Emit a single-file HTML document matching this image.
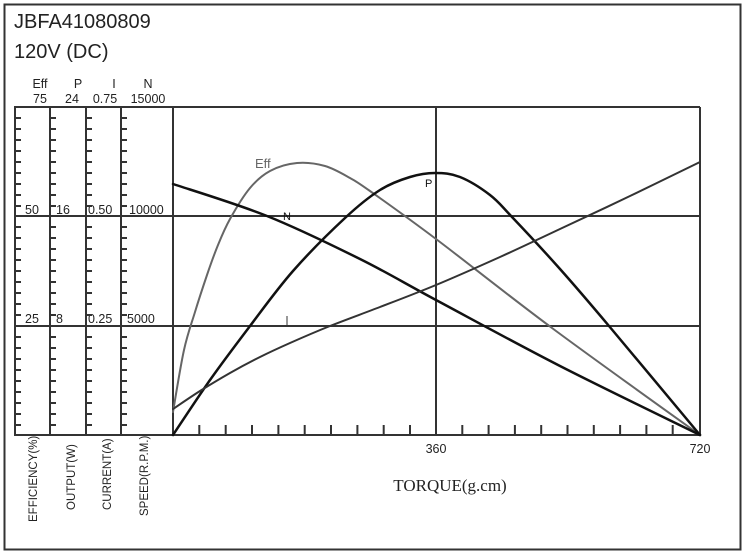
<!DOCTYPE html>
<html><head><meta charset="utf-8"><style>
html,body{margin:0;padding:0;background:#fff}
svg{display:block}
.s{font-family:"Liberation Sans",sans-serif}
.serif{font-family:"Liberation Serif",serif}
</style></head><body>
<svg width="744" height="554" viewBox="0 0 744 554" xmlns="http://www.w3.org/2000/svg">
<rect x="4.5" y="4.5" width="736" height="545" fill="#fff" stroke="#333" stroke-width="2"/>
<text class="s" x="14" y="28" font-size="20" fill="#222">JBFA41080809</text>
<text class="s" x="14" y="58" font-size="20" fill="#222">120V (DC)</text>
<g class="s" font-size="12.5" fill="#222" text-anchor="middle">
<text x="40" y="88">Eff</text><text x="40" y="103">75</text>
<text x="78" y="88">P</text><text x="72" y="103">24</text>
<text x="114" y="88">I</text><text x="105" y="103">0.75</text>
<text x="148" y="88">N</text><text x="148" y="103">15000</text>
</g>
<g class="s" font-size="12.5" fill="#222">
<text x="25" y="214">50</text><text x="56" y="214">16</text><text x="88" y="214">0.50</text><text x="129" y="214">10000</text>
<text x="25" y="323">25</text><text x="56" y="323">8</text><text x="88" y="323">0.25</text><text x="127" y="323">5000</text>
</g>
<g stroke="#333" stroke-width="2" fill="none">
<line x1="14" y1="107" x2="700" y2="107"/>
<line x1="14" y1="435" x2="700" y2="435"/>
<line x1="14" y1="216" x2="700" y2="216"/>
<line x1="14" y1="326" x2="700" y2="326"/>
<line x1="15" y1="107" x2="15" y2="435"/>
<line x1="50" y1="107" x2="50" y2="435"/>
<line x1="86" y1="107" x2="86" y2="435"/>
<line x1="121" y1="107" x2="121" y2="435"/>
<line x1="173" y1="107" x2="173" y2="435"/>
<line x1="436" y1="107" x2="436" y2="435"/>
<line x1="700" y1="107" x2="700" y2="435"/>
</g>
<g stroke="#333" stroke-width="2" id="lt">
<path d="M15 118h6M15 129h6M15 140h6M15 151h6M15 162h6M15 173h6M15 184h6M15 195h6M15 206h6M15 227h6M15 238h6M15 249h6M15 260h6M15 271h6M15 282h6M15 293h6M15 304h6M15 315h6M15 337h6M15 348h6M15 359h6M15 370h6M15 381h6M15 392h6M15 403h6M15 414h6M15 425h6"/>
</g>
<use href="#lt" x="35"/><use href="#lt" x="71"/><use href="#lt" x="106"/>
<g stroke="#333" stroke-width="2">
<path d="M199.3 435v-10M225.7 435v-10M252 435v-10M278.4 435v-10M304.7 435v-10M331 435v-10M357.4 435v-10M383.7 435v-10M410 435v-10M462.3 435v-10M488.6 435v-10M514.9 435v-10M541.2 435v-10M567.5 435v-10M593.8 435v-10M620.1 435v-10M646.4 435v-10M672.7 435v-10"/>
<path d="M287 326v-10" stroke-width="1"/>
</g>
<g class="s" font-size="12.5" fill="#222" text-anchor="middle">
<text x="436" y="453">360</text><text x="700" y="453">720</text>
</g>
<text class="serif" x="450" y="491" font-size="17" text-anchor="middle" fill="#222">TORQUE(g.cm)</text>
<g class="s" font-size="11.5" fill="#222" text-anchor="start">
<text transform="translate(37,522) rotate(-90)">EFFICIENCY(%)</text>
<text transform="translate(75,510) rotate(-90)">OUTPUT(W)</text>
<text transform="translate(111,510) rotate(-90)">CURRENT(A)</text>
<text transform="translate(148,516) rotate(-90)">SPEED(R.P.M.)</text>
</g>
<g fill="none" stroke-linejoin="round" stroke-linecap="round">
<path id="eff" stroke="#666" stroke-width="2" d=""/>
<path id="n" stroke="#111" stroke-width="2.5" d=""/>
<path id="p" stroke="#111" stroke-width="2.5" d=""/>
<path id="i" stroke="#333" stroke-width="2" d=""/>
</g>
<text class="s" x="255" y="168" font-size="13" fill="#666">Eff</text>
<text class="s" x="283" y="220" font-size="11" fill="#111">N</text>
<text class="s" x="425" y="187" font-size="11" fill="#111">P</text>
</svg>
<script>
function cr(pts){
  var d="M"+pts[0][0]+" "+pts[0][1];
  for(var k=0;k<pts.length-1;k++){
    var p0=pts[k-1]||pts[k],p1=pts[k],p2=pts[k+1],p3=pts[k+2]||p2;
    var c1x=p1[0]+(p2[0]-p0[0])/6,c1y=p1[1]+(p2[1]-p0[1])/6;
    var c2x=p2[0]-(p3[0]-p1[0])/6,c2y=p2[1]-(p3[1]-p1[1])/6;
    d+=" C"+c1x.toFixed(1)+" "+c1y.toFixed(1)+" "+c2x.toFixed(1)+" "+c2y.toFixed(1)+" "+p2[0]+" "+p2[1];
  }
  return d;
}
var data={
 eff:[[173,412],[184,350],[195,312],[207,275],[218,245],[230,219],[250,188],[270,171],[297,163],[325,166],[350,178],[370,191],[436,239],[552,328],[700,435]],
 n:[[173,184],[267,216],[360,259],[436,300],[560,366],[700,435]],
 p:[[173,435],[210,380],[250,326],[293,271],[345,218],[380,190],[410,177],[435,173],[460,177],[490,195],[512,217],[560,269],[609,326],[700,435]],
 i:[[173,409],[200,391],[230,373],[260,357],[290,343],[330,326],[380,307],[436,285],[500,257],[560,229],[630,196],[700,162]]
};
for(var k in data){document.getElementById(k).setAttribute("d",cr(data[k]));}
</script>
</body></html>
